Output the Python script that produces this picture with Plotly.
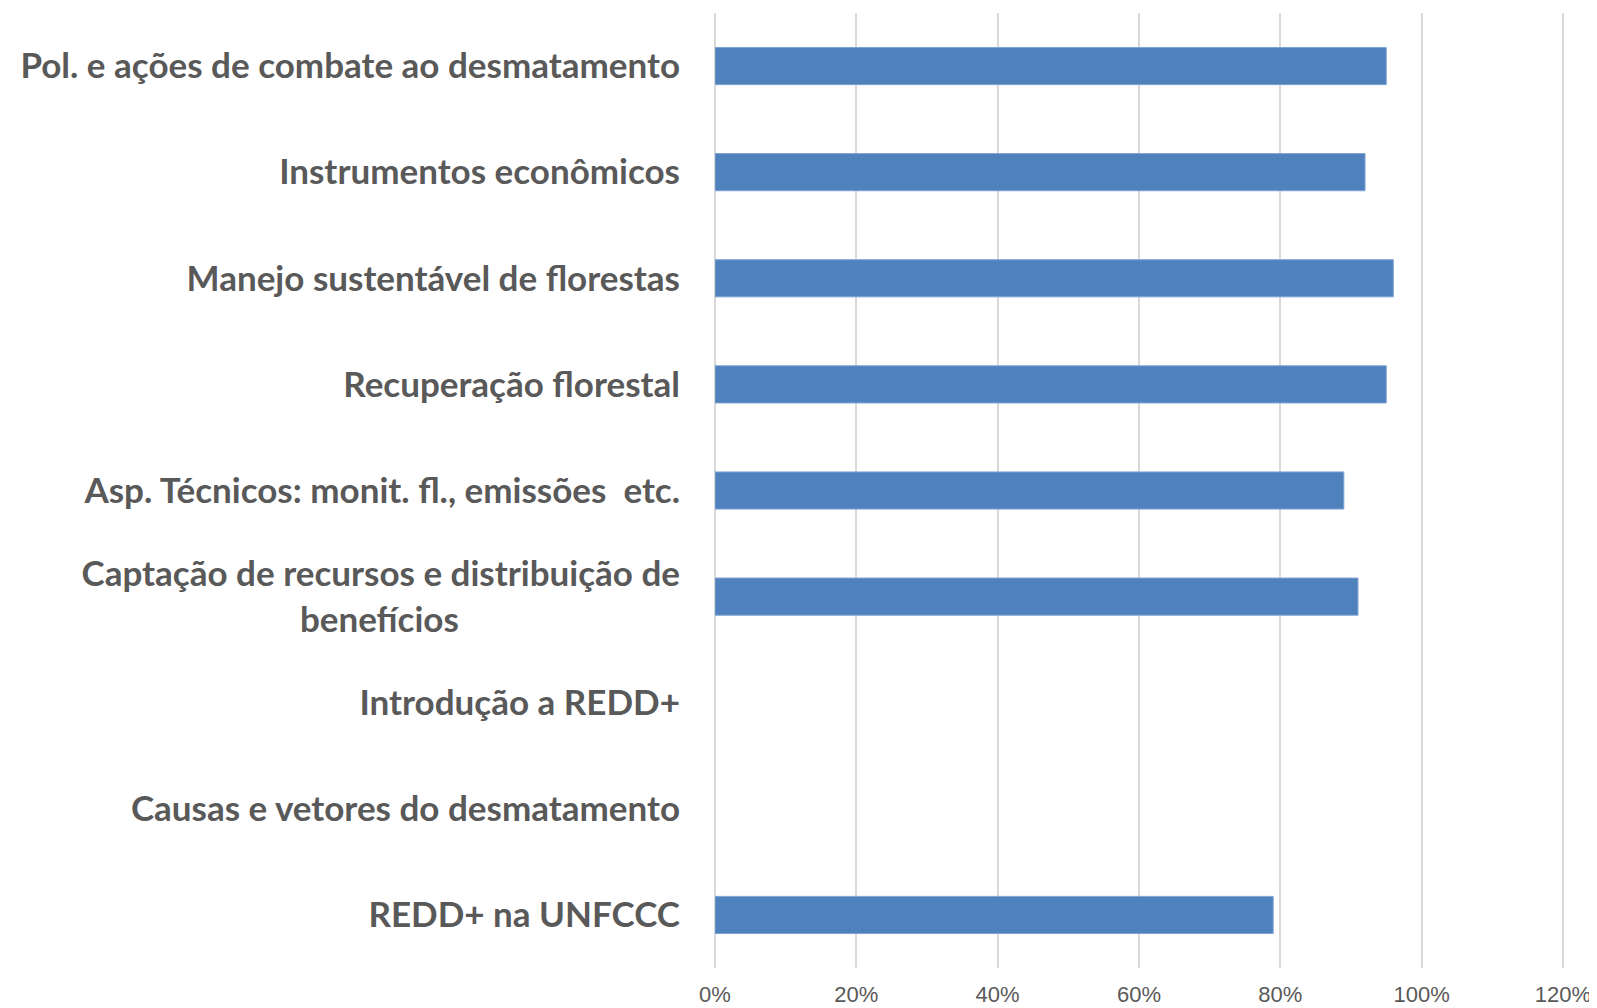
import plotly.graph_objects as go

categories = [
    "Pol. e ações de combate ao desmatamento",
    "Instrumentos econômicos",
    "Manejo sustentável de florestas",
    "Recuperação florestal",
    "Asp. Técnicos: monit. fl., emissões  etc.",
    "Captação de recursos e distribuição de<br>benefícios" + "\u00a0" * 26,
    "Introdução a REDD+",
    "Causas e vetores do desmatamento",
    "REDD+ na UNFCCC",
]
values = [0.95, 0.92, 0.96, 0.95, 0.89, 0.91, None, None, 0.79]
tick_vals = [0, 0.2, 0.4, 0.6, 0.8, 1.0, 1.2]
tick_text = ["0%", "20%", "40%", "60%", "80%", "100%", "120%"]

fig = go.Figure(
    go.Bar(
        y=categories,
        x=values,
        orientation="h",
        marker=dict(color="#4F81BD", line=dict(color="#7EA3D3", width=1)),
    )
)

fig.update_layout(
    width=1589,
    height=1000,
    margin=dict(l=707, r=32, t=5, b=40, autoexpand=False),
    plot_bgcolor="white",
    paper_bgcolor="white",
    bargap=0.65,
    showlegend=False,
)
fig.update_xaxes(
    range=[0, 1.203],
    tickvals=tick_vals,
    ticktext=tick_text,
    showgrid=True,
    gridcolor="#D9D9D9",
    gridwidth=1.5,
    zeroline=True,
    zerolinecolor="#D9D9D9",
    zerolinewidth=1.5,
    showline=False,
    automargin=False,
    tickfont=dict(family="Liberation Sans Narrow, Liberation Sans, Arial", size=22, color="#595959"),
    ticklabelstandoff=11,
)
fig.update_yaxes(
    autorange="reversed",
    showgrid=False,
    showline=False,
    automargin=False,
    tickfont=dict(family="Lato, Open Sans, sans-serif", size=35, color="#595959", weight="bold"),
    ticklabelstandoff=34,
)

fig.write_html("out.html")
